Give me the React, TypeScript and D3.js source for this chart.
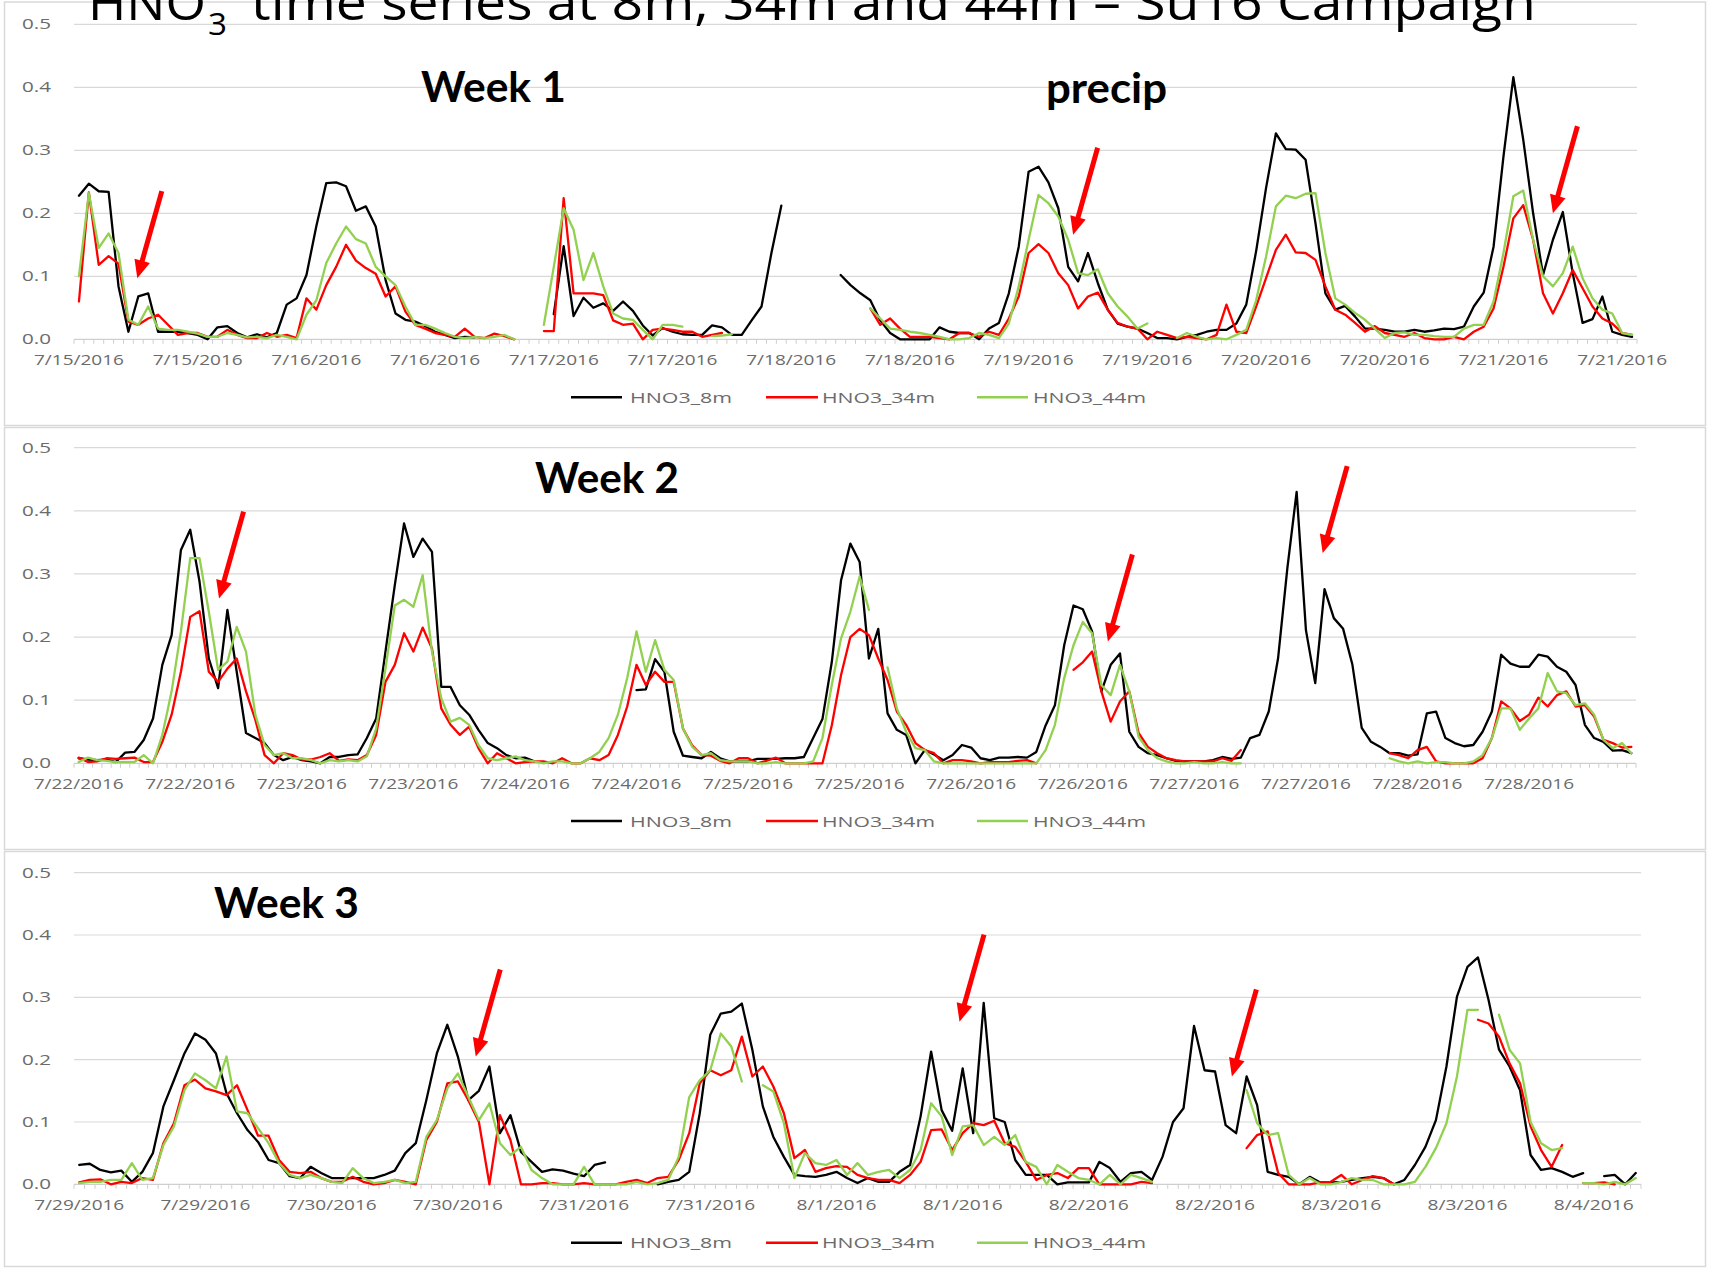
import React from 'react';
import * as d3 from 'd3';

type V = number | null;

// Category-axis labels: one label every 12 hourly samples
const WEEK1_TICKS = ['7/15/2016', '7/15/2016', '7/16/2016', '7/16/2016', '7/17/2016', '7/17/2016', '7/18/2016', '7/18/2016', '7/19/2016', '7/19/2016', '7/20/2016', '7/20/2016', '7/21/2016', '7/21/2016'];
const WEEK2_TICKS = ['7/22/2016', '7/22/2016', '7/23/2016', '7/23/2016', '7/24/2016', '7/24/2016', '7/25/2016', '7/25/2016', '7/26/2016', '7/26/2016', '7/27/2016', '7/27/2016', '7/28/2016', '7/28/2016'];
const WEEK3_TICKS = ['7/29/2016', '7/29/2016', '7/30/2016', '7/30/2016', '7/31/2016', '7/31/2016', '8/1/2016', '8/1/2016', '8/2/2016', '8/2/2016', '8/3/2016', '8/3/2016', '8/4/2016'];
const TICK_EVERY = 12;

const Y_TICKS = [0, 0.1, 0.2, 0.3, 0.4, 0.5];

const SERIES_NAMES = ['HNO3_8m', 'HNO3_34m', 'HNO3_44m'];
const SERIES_COLORS = ['#000000', '#ff0000', '#92d050'];

// ---- Week 1 (hourly, ppb) ----
const WEEK1_8M: V[] = [
  0.228, 0.247, 0.235, 0.234, 0.084, 0.012, 0.068, 0.073, 0.012, 0.012,
  0.012, 0.010, 0.007, 0.000, 0.019, 0.021, 0.010, 0.003, 0.008, 0.003,
  0.010, 0.055, 0.065, 0.102, 0.180, 0.248, 0.249, 0.243, 0.204, 0.211,
  0.179, 0.094, 0.041, 0.031, 0.028, 0.021, 0.012, 0.007, 0.002, 0.004,
  0.003, null, null, null, null, null, null, null, 0.040, 0.148,
  0.037, 0.066, 0.050, 0.057, 0.045, 0.060, 0.045, 0.022, 0.006, 0.018,
  0.012, 0.008, 0.007, 0.007, 0.022, 0.019, 0.007, 0.007, 0.030, 0.052,
  0.137, 0.212, null, null, null, null, null, 0.102, 0.086, 0.073,
  0.062, 0.030, 0.010, 0.000, 0.000, 0.000, 0.000, 0.019, 0.012, 0.010,
  0.010, 0.000, 0.017, 0.026, 0.073, 0.147, 0.266, 0.274, 0.249, 0.208,
  0.115, 0.092, 0.137, 0.089, 0.047, 0.025, 0.020, 0.017, 0.010, 0.002,
  0.002, 0.000, 0.004, 0.007, 0.012, 0.015, 0.015, 0.025, 0.055, 0.140,
  0.240, 0.327, 0.302, 0.301, 0.285, 0.184, 0.073, 0.047, 0.053, 0.036,
  0.017, 0.017, 0.015, 0.012, 0.012, 0.015, 0.012, 0.014, 0.017, 0.016,
  0.020, 0.052, 0.074, 0.147, 0.290, 0.416, 0.317, 0.200, 0.102, 0.158,
  0.202, 0.105, 0.026, 0.032, 0.068, 0.012, 0.007, 0.004,
];
const WEEK1_34M: V[] = [
  0.060, 0.233, 0.118, 0.132, 0.120, 0.028, 0.023, 0.033, 0.039, 0.023,
  0.007, 0.010, 0.010, 0.004, 0.004, 0.015, 0.007, 0.002, 0.002, 0.010,
  0.004, 0.007, 0.002, 0.065, 0.047, 0.086, 0.115, 0.150, 0.125, 0.113,
  0.104, 0.068, 0.084, 0.044, 0.023, 0.017, 0.010, 0.007, 0.004, 0.017,
  0.004, 0.002, 0.009, 0.005, 0.000, null, null, 0.013, 0.013, 0.224,
  0.073, 0.073, 0.073, 0.070, 0.030, 0.023, 0.025, 0.000, 0.015, 0.017,
  0.015, 0.012, 0.012, 0.004, 0.007, 0.010, null, null, null, null,
  null, null, null, null, null, null, null, null, null, null,
  0.049, 0.023, 0.033, 0.017, 0.004, 0.004, 0.004, 0.002, 0.000, 0.010,
  0.010, 0.004, 0.012, 0.007, 0.033, 0.068, 0.137, 0.151, 0.137, 0.105,
  0.086, 0.049, 0.068, 0.074, 0.047, 0.026, 0.020, 0.017, 0.000, 0.012,
  0.007, 0.002, 0.004, 0.002, 0.000, 0.007, 0.055, 0.012, 0.010, 0.052,
  0.097, 0.142, 0.166, 0.138, 0.137, 0.126, 0.084, 0.047, 0.039, 0.026,
  0.012, 0.021, 0.010, 0.007, 0.004, 0.010, 0.002, 0.000, 0.000, 0.004,
  0.000, 0.012, 0.020, 0.049, 0.115, 0.192, 0.213, 0.158, 0.073, 0.041,
  0.073, 0.110, 0.081, 0.052, 0.033, 0.025, 0.010, 0.007,
];
const WEEK1_44M: V[] = [
  0.100, 0.232, 0.145, 0.168, 0.137, 0.031, 0.023, 0.052, 0.017, 0.015,
  0.015, 0.012, 0.009, 0.004, 0.004, 0.010, 0.007, 0.003, 0.004, 0.002,
  0.007, 0.004, 0.000, 0.039, 0.062, 0.121, 0.152, 0.179, 0.159, 0.152,
  0.115, 0.100, 0.086, 0.052, 0.023, 0.023, 0.017, 0.010, 0.004, 0.002,
  0.004, 0.002, 0.004, 0.007, 0.000, null, null, 0.023, 0.115, 0.208,
  0.174, 0.094, 0.137, 0.084, 0.041, 0.033, 0.031, 0.015, 0.000, 0.023,
  0.023, 0.020, null, null, 0.005, 0.006, 0.008, null, null, null,
  null, null, null, null, null, null, null, null, null, null,
  0.049, 0.033, 0.017, 0.015, 0.012, 0.010, 0.007, 0.004, 0.000, 0.000,
  0.002, 0.010, 0.007, 0.002, 0.025, 0.084, 0.158, 0.229, 0.216, 0.195,
  0.158, 0.105, 0.102, 0.111, 0.073, 0.052, 0.036, 0.017, 0.025, null,
  null, 0.002, 0.010, 0.004, 0.000, 0.002, 0.000, 0.007, 0.015, 0.062,
  0.131, 0.211, 0.228, 0.224, 0.231, 0.232, 0.137, 0.065, 0.055, 0.042,
  0.031, 0.017, 0.002, 0.010, 0.011, 0.007, 0.007, 0.005, 0.004, 0.004,
  0.017, 0.023, 0.023, 0.060, 0.137, 0.227, 0.236, 0.158, 0.100, 0.084,
  0.105, 0.147, 0.097, 0.065, 0.047, 0.041, 0.010, 0.007,
];

// ---- Week 2 ----
const WEEK2_8M: V[] = [
  0.008, 0.006, 0.005, 0.006, 0.002, 0.017, 0.018, 0.037, 0.071, 0.156,
  0.203, 0.338, 0.370, 0.288, 0.166, 0.119, 0.243, 0.145, 0.048, 0.040,
  0.032, 0.013, 0.005, 0.010, 0.005, 0.003, 0.000, 0.010, 0.010, 0.013,
  0.014, 0.040, 0.071, 0.177, 0.282, 0.380, 0.327, 0.356, 0.335, 0.121,
  0.121, 0.092, 0.077, 0.053, 0.032, 0.024, 0.013, 0.008, 0.009, 0.003,
  null, null, null, null, null, null, null, null, null, null,
  0.116, 0.117, 0.165, 0.145, 0.050, 0.012, 0.010, 0.008, 0.018, 0.008,
  0.003, 0.003, 0.003, 0.007, 0.007, 0.007, 0.008, 0.008, 0.010, 0.040,
  0.070, 0.160, 0.290, 0.348, 0.319, 0.166, 0.213, 0.079, 0.053, 0.045,
  0.000, 0.021, 0.014, 0.005, 0.013, 0.029, 0.025, 0.008, 0.005, 0.009,
  0.009, 0.010, 0.009, 0.018, 0.060, 0.092, 0.187, 0.250, 0.244, 0.209,
  0.114, 0.156, 0.174, 0.050, 0.026, 0.016, 0.013, 0.008, 0.004, 0.003,
  0.003, 0.003, 0.005, 0.010, 0.007, 0.009, 0.040, 0.045, 0.082, 0.166,
  0.309, 0.430, 0.211, 0.127, 0.276, 0.230, 0.213, 0.156, 0.056, 0.034,
  0.026, 0.016, 0.016, 0.012, 0.014, 0.079, 0.082, 0.040, 0.032, 0.027,
  0.029, 0.050, 0.082, 0.172, 0.158, 0.153, 0.153, 0.172, 0.169, 0.153,
  0.145, 0.124, 0.061, 0.040, 0.034, 0.020, 0.021, 0.016,
];
const WEEK2_34M: V[] = [
  0.009, 0.002, 0.003, 0.008, 0.007, 0.008, 0.009, 0.002, 0.002, 0.034,
  0.077, 0.145, 0.232, 0.241, 0.145, 0.129, 0.150, 0.166, 0.114, 0.069,
  0.013, 0.000, 0.016, 0.013, 0.006, 0.006, 0.010, 0.016, 0.004, 0.006,
  0.005, 0.013, 0.045, 0.129, 0.156, 0.206, 0.177, 0.215, 0.182, 0.087,
  0.061, 0.045, 0.058, 0.024, 0.000, 0.016, 0.008, 0.000, 0.002, 0.003,
  0.003, 0.000, 0.008, 0.000, 0.000, 0.008, 0.005, 0.013, 0.045, 0.090,
  0.156, 0.124, 0.145, 0.129, 0.129, 0.055, 0.028, 0.013, 0.012, 0.004,
  0.000, 0.008, 0.008, 0.000, 0.004, 0.009, 0.000, 0.000, 0.000, 0.000,
  0.000, 0.060, 0.140, 0.200, 0.213, 0.203, 0.166, 0.132, 0.082, 0.061,
  0.032, 0.021, 0.016, 0.000, 0.005, 0.005, 0.003, 0.000, 0.002, 0.002,
  0.002, 0.004, 0.005, 0.000, null, null, null, 0.148, 0.160, 0.177,
  0.114, 0.066, 0.098, 0.114, 0.048, 0.026, 0.016, 0.008, 0.005, 0.003,
  0.003, 0.003, 0.003, 0.008, 0.004, 0.021, null, null, null, null,
  null, null, null, null, null, null, null, null, null, null,
  null, 0.016, 0.013, 0.008, 0.021, 0.026, 0.003, 0.000, 0.000, 0.000,
  0.000, 0.008, 0.040, 0.098, 0.087, 0.067, 0.077, 0.104, 0.090, 0.108,
  0.114, 0.090, 0.092, 0.074, 0.037, 0.032, 0.025, 0.026,
];
const WEEK2_44M: V[] = [
  0.002, 0.009, 0.005, 0.004, 0.002, 0.002, 0.002, 0.013, 0.000, 0.045,
  0.114, 0.209, 0.325, 0.325, 0.240, 0.148, 0.161, 0.216, 0.177, 0.077,
  0.029, 0.013, 0.016, 0.008, 0.008, 0.005, 0.000, 0.005, 0.003, 0.005,
  0.003, 0.011, 0.055, 0.150, 0.250, 0.259, 0.248, 0.298, 0.177, 0.103,
  0.066, 0.072, 0.061, 0.029, 0.008, 0.005, 0.008, 0.011, 0.005, 0.003,
  0.000, 0.003, 0.003, 0.000, 0.000, 0.008, 0.018, 0.040, 0.077, 0.135,
  0.209, 0.145, 0.195, 0.148, 0.132, 0.055, 0.026, 0.013, 0.016, 0.005,
  0.003, 0.003, 0.003, 0.000, 0.000, 0.002, 0.000, 0.000, 0.000, 0.003,
  0.040, 0.124, 0.198, 0.240, 0.296, 0.243, null, 0.152, 0.087, 0.050,
  0.024, 0.021, 0.003, 0.000, 0.000, 0.000, 0.000, 0.000, 0.000, 0.000,
  0.000, 0.000, 0.000, 0.000, 0.021, 0.061, 0.135, 0.187, 0.224, 0.206,
  0.124, 0.108, 0.156, 0.114, 0.042, 0.021, 0.008, 0.003, 0.000, 0.000,
  0.002, 0.000, 0.000, 0.002, 0.000, 0.000, null, null, null, null,
  null, null, null, null, null, null, null, null, null, null,
  null, 0.008, 0.003, 0.000, 0.003, 0.000, 0.002, 0.002, 0.000, 0.000,
  0.003, 0.013, 0.040, 0.087, 0.087, 0.053, 0.071, 0.087, 0.143, 0.114,
  0.111, 0.092, 0.095, 0.077, 0.037, 0.024, 0.032, 0.016,
];

// ---- Week 3 ----
const WEEK3_8M: V[] = [
  0.031, 0.033, 0.023, 0.019, 0.022, 0.004, 0.020, 0.050, 0.125, 0.167,
  0.210, 0.242, 0.232, 0.210, 0.146, 0.114, 0.087, 0.068, 0.039, 0.034,
  0.013, 0.010, 0.028, 0.018, 0.010, 0.010, 0.010, 0.010, 0.010, 0.015,
  0.022, 0.050, 0.066, 0.135, 0.210, 0.256, 0.205, 0.135, 0.150, 0.189,
  0.082, 0.111, 0.052, 0.036, 0.020, 0.024, 0.022, 0.017, 0.013, 0.031,
  0.035, null, null, null, null, 0.000, 0.004, 0.007, 0.020, 0.114,
  0.240, 0.274, 0.277, 0.290, 0.216, 0.125, 0.076, 0.044, 0.015, 0.013,
  0.012, 0.015, 0.020, 0.010, 0.002, 0.010, 0.004, 0.004, 0.020, 0.031,
  0.109, 0.213, 0.119, 0.086, 0.186, 0.082, 0.291, 0.106, 0.100, 0.039,
  0.015, 0.015, 0.015, 0.000, 0.003, 0.003, 0.003, 0.036, 0.026, 0.004,
  0.018, 0.020, 0.007, 0.044, 0.100, 0.122, 0.254, 0.183, 0.181, 0.095,
  0.082, 0.173, 0.127, 0.020, 0.015, 0.012, 0.000, 0.012, 0.003, 0.003,
  0.004, 0.007, 0.010, 0.012, 0.010, 0.000, 0.007, 0.031, 0.060, 0.103,
  0.189, 0.301, 0.349, 0.364, 0.296, 0.216, 0.189, 0.151, 0.047, 0.023,
  0.026, 0.020, 0.012, 0.018, null, 0.013, 0.015, 0.000, 0.018,
];
const WEEK3_34M: V[] = [
  0.003, 0.007, 0.008, 0.000, 0.004, 0.002, 0.010, 0.007, 0.066, 0.098,
  0.159, 0.168, 0.154, 0.149, 0.143, 0.159, 0.119, 0.078, 0.078, 0.039,
  0.020, 0.018, 0.020, 0.010, 0.004, 0.004, 0.012, 0.004, 0.000, 0.002,
  0.007, 0.004, 0.000, 0.071, 0.100, 0.162, 0.165, 0.135, 0.100, 0.000,
  0.111, 0.071, 0.000, 0.000, 0.002, 0.002, 0.000, 0.000, 0.002, 0.000,
  0.000, 0.000, 0.004, 0.007, 0.002, 0.010, 0.012, 0.039, 0.082, 0.162,
  0.183, 0.175, 0.183, 0.237, 0.173, 0.189, 0.157, 0.114, 0.042, 0.055,
  0.020, 0.026, 0.029, 0.028, 0.015, 0.010, 0.007, 0.007, 0.002, 0.015,
  0.036, 0.087, 0.088, 0.055, 0.082, 0.098, 0.095, 0.102, 0.066, 0.060,
  0.036, 0.007, 0.015, 0.018, 0.010, 0.026, 0.026, 0.000, 0.000, 0.000,
  0.000, 0.004, 0.002, null, null, null, null, null, null, null,
  null, 0.058, 0.079, 0.085, 0.018, 0.000, 0.000, 0.000, 0.003, 0.004,
  0.015, 0.000, 0.007, 0.013, 0.010, 0.000, null, null, null, null,
  null, null, null, 0.264, 0.258, 0.237, 0.194, 0.162, 0.093, 0.055,
  0.028, 0.063, null, 0.002, 0.002, 0.003, 0.000, null, null,
];
const WEEK3_44M: V[] = [
  0.002, 0.004, 0.004, 0.007, 0.007, 0.034, 0.007, 0.010, 0.063, 0.093,
  0.151, 0.178, 0.167, 0.154, 0.205, 0.117, 0.114, 0.090, 0.066, 0.034,
  0.015, 0.010, 0.015, 0.010, 0.004, 0.002, 0.026, 0.010, 0.002, 0.004,
  0.007, 0.002, 0.004, 0.076, 0.103, 0.154, 0.178, 0.140, 0.103, 0.130,
  0.066, 0.047, 0.060, 0.023, 0.010, 0.000, 0.000, 0.000, 0.028, 0.000,
  0.000, 0.000, 0.000, 0.004, 0.000, 0.002, 0.007, 0.044, 0.140, 0.167,
  0.183, 0.242, 0.221, 0.165, null, 0.159, 0.149, 0.098, 0.010, 0.050,
  0.034, 0.031, 0.039, 0.015, 0.034, 0.015, 0.020, 0.023, 0.010, 0.023,
  0.055, 0.130, 0.109, 0.047, 0.093, 0.095, 0.063, 0.076, 0.063, 0.079,
  0.036, 0.028, 0.000, 0.031, 0.020, 0.010, 0.007, 0.000, 0.015, 0.000,
  0.015, 0.010, 0.004, null, null, null, null, null, null, null,
  null, 0.151, 0.098, 0.079, 0.082, 0.015, 0.000, 0.010, 0.000, 0.000,
  0.004, 0.010, 0.007, 0.007, 0.000, 0.000, 0.000, 0.004, 0.028, 0.058,
  0.098, 0.173, 0.280, 0.280, null, 0.272, 0.216, 0.194, 0.100, 0.066,
  0.055, 0.058, null, 0.002, 0.002, 0.000, 0.004, 0.000, 0.010,
];

// Arrow tips, in (sample index, value) of each week
const WEEK1_ARROWS = [{ i: 5.9, v: 0.097 }, { i: 100.5, v: 0.166 }, { i: 149.0, v: 0.2 }];
const WEEK2_ARROWS = [{ i: 15.1, v: 0.261 }, { i: 110.7, v: 0.193 }, { i: 133.8, v: 0.333 }];
const WEEK3_ARROWS = [{ i: 37.7, v: 0.205 }, { i: 83.7, v: 0.261 }, { i: 109.6, v: 0.173 }];

const FONT = "'Open Sans', 'Noto Sans', sans-serif";
const BOLD_FONT = "Lato, 'Open Sans', sans-serif";
const AXIS_TEXT = '#6b6b6b';
const GRID = '#d9d9d9';

type PanelDef = {
  box: [number, number, number, number];
  left: number; right: number; top: number; bottom: number;
  tickY: number; legendY: number;
  series: V[][];
  ticks: string[];
  arrows: { i: number; v: number }[];
  notes: { text: string; x: number; y: number; w: number }[];
};

const PANELS: PanelDef[] = [
  {
    box: [4.5, 2, 1705.5, 425.5], left: 74, right: 1637, top: 24.3, bottom: 339.3,
    tickY: 365, legendY: 397.3,
    series: [WEEK1_8M, WEEK1_34M, WEEK1_44M], ticks: WEEK1_TICKS, arrows: WEEK1_ARROWS,
    notes: [{ text: 'Week 1', x: 421, y: 101.7, w: 145 }, { text: 'precip', x: 1046, y: 103.3, w: 121 }],
  },
  {
    box: [4.5, 427.5, 1705.5, 849.5], left: 74, right: 1636, top: 447.7, bottom: 763.3,
    tickY: 789, legendY: 821,
    series: [WEEK2_8M, WEEK2_34M, WEEK2_44M], ticks: WEEK2_TICKS, arrows: WEEK2_ARROWS,
    notes: [{ text: 'Week 2', x: 535, y: 492.7, w: 144 }],
  },
  {
    box: [4.5, 851.5, 1705.5, 1266.5], left: 74, right: 1641, top: 872.7, bottom: 1184.3,
    tickY: 1210, legendY: 1242.7,
    series: [WEEK3_8M, WEEK3_34M, WEEK3_44M], ticks: WEEK3_TICKS, arrows: WEEK3_ARROWS,
    notes: [{ text: 'Week 3', x: 214, y: 917.7, w: 145 }],
  },
];

const LEGEND_POS = [
  { x0: 571, x1: 622, tx: 630, tw: 102 },
  { x0: 766, x1: 818, tx: 822, tw: 113 },
  { x0: 977, x1: 1028, tx: 1033, tw: 113 },
];

function Arrow({ tx, ty }: { tx: number; ty: number }) {
  const dx = 24.5;
  const dy = -87;
  const len = Math.hypot(dx, dy);
  const ux = -dx / len;
  const uy = -dy / len;
  const headLen = 18;
  const headHalf = 8;
  const bx = tx - ux * headLen;
  const by = ty - uy * headLen;
  const px = -uy;
  const py = ux;
  return (
    <g>
      <line x1={tx + dx} y1={ty + dy} x2={bx + ux * 2} y2={by + uy * 2} stroke="#ff0000" strokeWidth={5} />
      <polygon
        points={`${tx},${ty} ${bx + px * headHalf},${by + py * headHalf} ${bx - px * headHalf},${by - py * headHalf}`}
        fill="#ff0000"
      />
    </g>
  );
}

function Panel({ p }: { p: PanelDef }) {
  const n = d3.max(p.series, (s) => s.length) as number;
  const x = d3.scaleLinear().domain([0, n]).range([p.left, p.right]);
  const y = d3.scaleLinear().domain([0, 0.5]).range([p.bottom, p.top]);
  const line = d3
    .line<V>()
    .defined((d) => d !== null)
    .x((_, i) => x(i + 0.5))
    .y((d) => y(d as number));
  const [bx0, by0, bx1, by1] = p.box;

  return (
    <g>
      <rect x={bx0} y={by0} width={bx1 - bx0} height={by1 - by0} fill="#ffffff" stroke={GRID} strokeWidth={1.5} />
      {Y_TICKS.map((t) => (
        <g key={t}>
          <line x1={p.left} x2={p.right} y1={y(t)} y2={y(t)} stroke={t === 0 ? '#cfcfcf' : GRID} strokeWidth={1.2} />
          <text x={51} y={y(t) + 5} textAnchor="end" fontFamily={FONT} fontSize={14} fill={AXIS_TEXT}
            textLength={29} lengthAdjust="spacingAndGlyphs">
            {t.toFixed(1)}
          </text>
        </g>
      ))}
      {d3.range(n + 1).map((k) => (
        <line key={k} x1={x(k)} x2={x(k)} y1={p.bottom} y2={p.bottom + 4.5} stroke="#cfcfcf" strokeWidth={1} />
      ))}
      {p.ticks.map((lab, k) => (
        <text key={k} x={x(k * TICK_EVERY + 0.5)} y={p.tickY} textAnchor="middle" fontFamily={FONT} fontSize={14}
          fill={AXIS_TEXT} textLength={lab.length * 10} lengthAdjust="spacingAndGlyphs">
          {lab}
        </text>
      ))}
      {p.series.map((s, si) => (
        <path key={si} d={line(s) ?? ''} fill="none" stroke={SERIES_COLORS[si]} strokeWidth={2.3}
          strokeLinejoin="round" strokeLinecap="round" />
      ))}
      {LEGEND_POS.map((l, si) => (
        <g key={si}>
          <line x1={l.x0} x2={l.x1} y1={p.legendY} y2={p.legendY} stroke={SERIES_COLORS[si]} strokeWidth={2.5} />
          <text x={l.tx} y={p.legendY + 5.5} fontFamily={FONT} fontSize={14.5} fill={AXIS_TEXT}
            textLength={l.tw} lengthAdjust="spacingAndGlyphs">
            {SERIES_NAMES[si]}
          </text>
        </g>
      ))}
      {p.notes.map((nt) => (
        <text key={nt.text} x={nt.x} y={nt.y} fontFamily={BOLD_FONT} fontWeight={700} fontSize={42} fill="#000"
          textLength={nt.w} lengthAdjust="spacingAndGlyphs">
          {nt.text}
        </text>
      ))}
      {p.arrows.map((a, k) => (
        <Arrow key={k} tx={x(a.i + 0.5)} ty={y(a.v)} />
      ))}
    </g>
  );
}

export default function App() {
  return (
    <div style={{ position: 'absolute', left: 0, top: 0 }}>
      <svg width={1710} height={1268} viewBox="0 0 1710 1268" style={{ display: 'block', background: '#fff' }}>
        <rect x={0} y={0} width={1710} height={1268} fill="#ffffff" />
        {PANELS.map((p, k) => (
          <Panel key={k} p={p} />
        ))}
        <g fontFamily={FONT} fontWeight={400} fill="#000">
          <text x={88} y={20} fontSize={50} textLength={118} lengthAdjust="spacingAndGlyphs">HNO</text>
          <text x={208} y={35} fontSize={31} textLength={19} lengthAdjust="spacingAndGlyphs">3</text>
          <text x={251} y={20} fontSize={50} textLength={1285} lengthAdjust="spacingAndGlyphs">
            time series at 8m, 34m and 44m – Su16 Campaign
          </text>
        </g>
      </svg>
    </div>
  );
}
